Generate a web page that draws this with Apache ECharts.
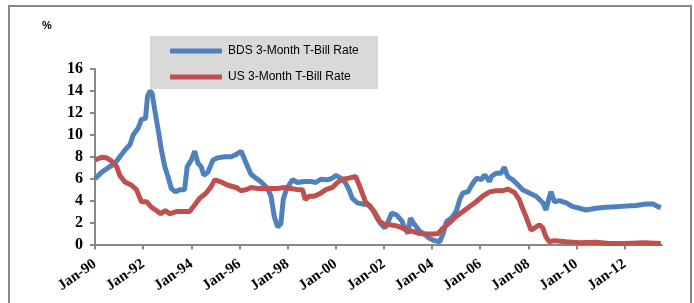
<!DOCTYPE html>
<html>
<head>
<meta charset="utf-8">
<script src="https://cdn.jsdelivr.net/npm/echarts@6/dist/echarts.min.js"></script>
<style>
  html, body { margin: 0; padding: 0; background: #fff; }
  #main { width: 694px; height: 303px; }
</style>
</head>
<body>
<div id="main"></div>
<script>
// series names
var seriesNames = ['BDS 3-Month T-Bill Rate', 'US 3-Month T-Bill Rate'];

// x tick years and their labels
var tickYears = [1990, 1992, 1994, 1996, 1998, 2000, 2002, 2004, 2006, 2008, 2010, 2012];
var tickLabels = ['Jan-90', 'Jan-92', 'Jan-94', 'Jan-96', 'Jan-98', 'Jan-00', 'Jan-02', 'Jan-04', 'Jan-06', 'Jan-08', 'Jan-10', 'Jan-12'];

// BDS 3-month T-bill (decimal year, %)
var bdsYears = [1990.0, 1990.28, 1990.55, 1990.83, 1991.03, 1991.24, 1991.45, 1991.59, 1991.79, 1991.93,
  1992.1, 1992.18, 1992.28, 1992.37, 1992.48, 1992.62, 1992.76, 1992.9, 1993.03, 1993.17,
  1993.34, 1993.52, 1993.72, 1993.83, 1994.0, 1994.14, 1994.28, 1994.41, 1994.52, 1994.69,
  1994.9, 1995.1, 1995.38, 1995.66, 1995.86, 1996.07, 1996.28, 1996.48, 1996.69, 1996.9,
  1997.17, 1997.31, 1997.45, 1997.59, 1997.72, 1997.82, 1997.96, 1998.21, 1998.41, 1998.69,
  1998.97, 1999.17, 1999.38, 1999.66, 1999.86, 2000.0, 2000.21, 2000.41, 2000.55, 2000.69,
  2000.9, 2001.1, 2001.4, 2001.55, 2001.77, 2001.9, 2002.04, 2002.18, 2002.32, 2002.52,
  2002.73, 2002.87, 2003.0, 2003.1, 2003.28, 2003.49, 2003.7, 2003.9, 2004.1, 2004.32,
  2004.46, 2004.6, 2004.8, 2005.0, 2005.15, 2005.28, 2005.49, 2005.7, 2005.86, 2006.04,
  2006.18, 2006.39, 2006.46, 2006.66, 2006.87, 2007.0, 2007.14, 2007.35, 2007.56, 2007.76,
  2008.04, 2008.32, 2008.6, 2008.73, 2008.84, 2008.94, 2009.08, 2009.29, 2009.57, 2009.84,
  2010.12, 2010.4, 2010.81, 2011.23, 2011.64, 2012.06, 2012.47, 2012.89, 2013.17, 2013.44, 2013.5];
var bdsRates = [6.0, 6.6, 7.0, 7.4, 8.0, 8.6, 9.1, 10.0, 10.6, 11.4,
  11.5, 13.5, 14.0, 13.8, 12.3, 10.5, 8.6, 7.1, 6.2, 5.1,
  4.8, 5.0, 5.0, 7.1, 7.7, 8.5, 7.4, 7.1, 6.3, 6.6,
  7.7, 7.9, 8.0, 8.0, 8.2, 8.5, 7.4, 6.4, 6.05, 5.7,
  5.1, 4.4, 2.5, 1.6, 1.9, 4.1, 5.1, 5.9, 5.65, 5.75,
  5.75, 5.65, 5.95, 5.9, 6.05, 6.3, 6.05, 5.6, 5.0, 4.2,
  3.8, 3.7, 3.6, 3.1, 2.2, 1.8, 1.5, 2.1, 2.85, 2.7,
  2.2, 1.5, 1.0, 2.4, 1.8, 1.2, 0.9, 0.55, 0.35, 0.25,
  1.0, 2.1, 2.4, 3.0, 4.1, 4.7, 4.8, 5.6, 6.05, 5.9,
  6.35, 5.75, 6.2, 6.5, 6.5, 7.05, 6.2, 5.9, 5.45, 5.0,
  4.7, 4.4, 3.8, 3.15, 4.1, 4.8, 3.9, 4.0, 3.8, 3.45,
  3.3, 3.15, 3.3, 3.4, 3.45, 3.5, 3.55, 3.7, 3.7, 3.4, 3.35];

// US 3-month T-bill (decimal year, %)
var usYears = [1990.0, 1990.28, 1990.48, 1990.69, 1990.9, 1991.03, 1991.24, 1991.52, 1991.72, 1991.93,
  1992.14, 1992.34, 1992.55, 1992.73, 1992.92, 1993.1, 1993.38, 1993.66, 1993.93, 1994.14,
  1994.34, 1994.62, 1994.83, 1994.97, 1995.24, 1995.52, 1995.86, 1996.07, 1996.28, 1996.48,
  1996.76, 1997.03, 1997.31, 1997.59, 1997.86, 1998.14, 1998.41, 1998.62, 1998.73, 1998.9,
  1999.1, 1999.31, 1999.59, 1999.86, 2000.07, 2000.28, 2000.55, 2000.83, 2001.03, 2001.23,
  2001.44, 2001.6, 2001.83, 2002.04, 2002.25, 2002.52, 2002.73, 2002.94, 2003.2, 2003.49,
  2003.77, 2004.04, 2004.25, 2004.46, 2004.73, 2005.0, 2005.28, 2005.55, 2005.83, 2006.1,
  2006.39, 2006.66, 2006.94, 2007.14, 2007.42, 2007.62, 2007.7, 2007.9, 2008.11, 2008.25,
  2008.46, 2008.6, 2008.73, 2008.87, 2009.08, 2009.57, 2010.12, 2010.81, 2011.36, 2012.06,
  2012.75, 2013.5];
var usRates = [7.7, 7.96, 7.9, 7.6, 7.1, 6.3, 5.7, 5.4, 5.0, 3.9,
  3.9, 3.4, 3.1, 2.8, 3.1, 2.8, 3.0, 3.0, 3.0, 3.6,
  4.2, 4.7, 5.3, 5.9, 5.7, 5.4, 5.2, 4.9, 5.0, 5.2,
  5.1, 5.1, 5.1, 5.1, 5.2, 5.1, 5.0, 5.0, 4.1, 4.4,
  4.4, 4.6, 5.0, 5.2, 5.65, 5.95, 6.05, 6.2, 5.1, 3.9,
  3.4, 3.0, 2.1, 1.8, 1.8, 1.7, 1.55, 1.3, 1.2, 1.0,
  0.95, 0.95, 1.0, 1.5, 2.0, 2.55, 3.0, 3.45, 3.9, 4.4,
  4.8, 4.9, 4.9, 5.05, 4.75, 4.1, 3.6, 2.55, 1.3, 1.5,
  1.8, 1.5, 0.7, 0.25, 0.35, 0.25, 0.15, 0.2, 0.1, 0.1,
  0.15, 0.1];

function pairs(xs, ys) {
  return xs.map(function (x, i) { return [x, ys[i]]; });
}

var chart = echarts.init(document.getElementById('main'));
var option = {
  animation: false,
  title: {
    text: '%',
    left: 37,
    top: 15,
    textStyle: { fontFamily: 'Liberation Sans', fontSize: 11, fontWeight: 'bold', color: '#000' }
  },
  graphic: [
    {
      type: 'rect', z: -10, silent: true,
      shape: { x: 9, y: 6, width: 682, height: 310 },
      style: { fill: '#fff', stroke: '#888', lineWidth: 2 }
    },
    {
      type: 'rect', z: 0, silent: true,
      shape: { x: 150, y: 36, width: 228, height: 53 },
      style: { fill: '#d9d9d9' }
    }
  ],
  legend: {
    orient: 'vertical',
    left: 165,
    top: 40,
    z: 5,
    itemWidth: 52,
    itemHeight: 5,
    itemGap: 14,
    icon: 'roundRect',
    textStyle: { fontFamily: 'Liberation Sans', fontSize: 12, color: '#000', padding: [0, 0, 0, 1] },
    data: seriesNames
  },
  grid: { left: 95, right: 32, top: 69, bottom: 58.5 },
  xAxis: {
    type: 'value',
    min: 1990,
    max: 2013.55,
    interval: 2,
    splitLine: { show: false },
    axisLine: { lineStyle: { color: '#888', width: 2 } },
    axisTick: { show: true, length: 5, lineStyle: { color: '#888', width: 2 }, customValues: tickYears },
    axisLabel: {
      customValues: tickYears,
      rotate: 35,
      margin: 18,
      fontFamily: 'Liberation Serif',
      fontWeight: 'bold',
      fontSize: 15,
      color: '#000',
      formatter: function (v) {
        var i = tickYears.indexOf(Math.round(v));
        return i >= 0 ? tickLabels[i] : '';
      }
    }
  },
  yAxis: {
    type: 'value',
    min: 0,
    max: 16,
    interval: 2,
    splitLine: { show: false },
    axisLine: { show: true, lineStyle: { color: '#888', width: 2 } },
    axisTick: { show: true, length: 5, lineStyle: { color: '#888', width: 2 } },
    axisLabel: {
      margin: 12,
      fontFamily: 'Liberation Serif',
      fontWeight: 'bold',
      fontSize: 16,
      color: '#000'
    }
  },
  series: [
    {
      name: seriesNames[0],
      type: 'line',
      showSymbol: false,
      symbol: 'none',
      data: pairs(bdsYears, bdsRates),
      itemStyle: { color: '#4F81BD' },
      lineStyle: { color: '#4F81BD', width: 5 }
    },
    {
      name: seriesNames[1],
      type: 'line',
      showSymbol: false,
      symbol: 'none',
      data: pairs(usYears, usRates),
      itemStyle: { color: '#C0504D' },
      lineStyle: { color: '#C0504D', width: 5 }
    }
  ]
};
chart.setOption(option);
</script>
</body>
</html>
